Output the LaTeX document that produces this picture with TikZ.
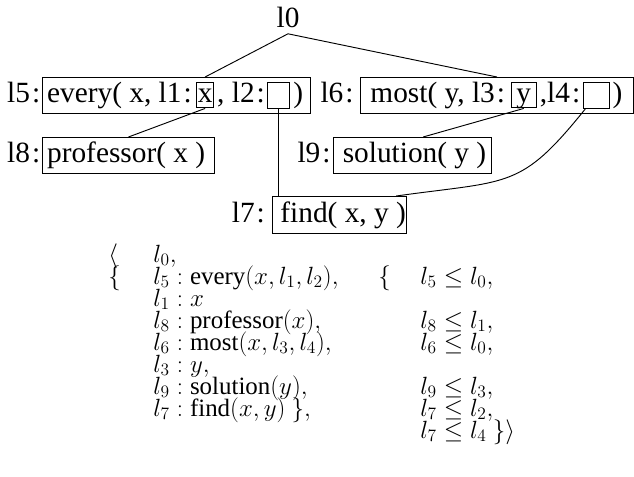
\RequirePackage{fix-cm}
\documentclass[tikz,border=0pt]{standalone}
\usepackage[no-math]{fontspec}
\setmainfont{Liberation Serif}
\usetikzlibrary{positioning}
\newcommand{\labfont}{\fontsize{22}{26}\selectfont}
\newcommand{\formfont}{\fontsize{18.7}{22}\selectfont}
\newcommand{\lab}[1]{l#1\kern1.5pt:}

\begin{document}
\begin{tikzpicture}[x=0.75pt, y=-0.75pt, line width=0.7pt,
		frame/.style={draw, inner sep=0pt, minimum height=27pt, anchor=north west},
		word/.style={inner sep=0pt, text height=15.8pt, text depth=4.8pt, font=\labfont},
		tag/.style={word},
		hole/.style={draw, inner sep=0pt, text height=13pt, text depth=2pt, minimum width=12.75pt, minimum height=18.75pt, font=\labfont},
		gap/.style={hole, minimum width=16.5pt, minimum height=19.5pt},
		form/.style={inner sep=0pt, anchor=base west, font=\formfont}]
	\useasboundingbox (0,0) rectangle (634,477);
	
	% 1. 顶点 l0
	\node[inner sep=4pt, text depth=0pt, anchor=base, font=\labfont] (top) at (288,28) {l0};
	
	% 2. 第一层: every 与 most
	\node[frame, minimum width=201pt] (every) at (42,77) {};
	\node[tag, left=1pt of every] (tagfive) {\lab{5}};
	\node[word, right=3.5pt of every.west] (everya) {every( x, \lab{1}};
	\node[hole, right=3pt of everya] (xhole) {x};
	\node[word, right=2pt of xhole] (everyb) {, \lab{2}};
	\node[gap, right=1.5pt of everyb] (lthole) {};
	\node[word, right=2pt of lthole] (everyc) {)};
	
	\node[frame, minimum width=204.75pt] (most) at (360,77) {};
	\node[tag, left=4.5pt of most] (tagsix) {\lab{6}};
	\node[word, right=7.5pt of most.west] (mosta) {most( y, \lab{3}};
	\node[hole, right=4pt of mosta, minimum width=18.75pt] (yhole) {y};
	\node[word, right=2pt of yhole] (mostb) {,\lab{4}};
	\node[gap, right=1.5pt of mostb, minimum width=19.5pt] (lfhole) {};
	\node[word, right=2pt of lfhole] (mostc) {)};
	
	% 3. 第二层与第三层
	\node[frame, minimum width=129pt] (prof) at (42,137) {};
	\node[tag, left=1pt of prof] (tageight) {\lab{8}};
	\node[word, right=3.5pt of prof.west] (profa) {professor( x )};
	
	\node[frame, minimum width=118.5pt] (sol) at (333,137) {};
	\node[tag, left=1.5pt of sol] (tagnine) {\lab{9}};
	\node[word, right=7pt of sol.west] (sola) {solution( y )};
	
	\node[frame, minimum width=100.5pt, minimum height=27.75pt] (find) at (272,196) {};
	\node[tag, left=5pt of find] (tagseven) {\lab{7}};
	\node[word, right=6pt of find.west] (finda) {find( x, y )};
	
	% 4. 连线
	\draw (top.south) -- (xhole |- every.north);
	\draw (top.south) -- (most.north);
	\draw (xhole.south) -- (prof.north);
	\draw (lthole.south) -- (lthole.south |- find.north);
	\draw (yhole.south) -- ([xshift=8pt]sol.north);
	\draw ([xshift=2pt]lfhole.south west) .. controls (520,190) and (510,180) .. ([xshift=-8pt]find.north east);
	
	% 5. 下方公式
	\node[form] (open) at (108,262) {$\langle$};
	\node[form] (rowzero) at (153,262) {$l_0,$};
	\node[form] (leftbrace) at (108,284) {$\{$};
	\node[form] (rowone) at (153,284) {$l_5 : {}$every$(x, l_1, l_2),$};
	\node[form] (rowtwo) at (153,306) {$l_1 : x$};
	\node[form] (rowthree) at (153,328) {$l_8 : {}$professor$(x),$};
	\node[form] (rowfour) at (153,350) {$l_6 : {}$most$(x, l_3, l_4),$};
	\node[form] (rowfive) at (153,372) {$l_3 : y,$};
	\node[form] (rowsix) at (153,394) {$l_9 : {}$solution$(y),$};
	\node[form] (rowseven) at (153,416) {$l_7 : {}$find$(x, y)\ \},$};
	
	\node[form] (rightbrace) at (378,284) {$\{$};
	\node[form] (leqone) at (420,284) {$l_5 \leq l_0,$};
	\node[form] (leqthree) at (420,328) {$l_8 \leq l_1,$};
	\node[form] (leqfour) at (420,350) {$l_6 \leq l_0,$};
	\node[form] (leqsix) at (420,394) {$l_9 \leq l_3,$};
	\node[form] (leqseven) at (420,416) {$l_7 \leq l_2,$};
	\node[form] (leqeight) at (420,438) {$l_7 \leq l_4\ \}\rangle$};
\end{tikzpicture}
\end{document}
